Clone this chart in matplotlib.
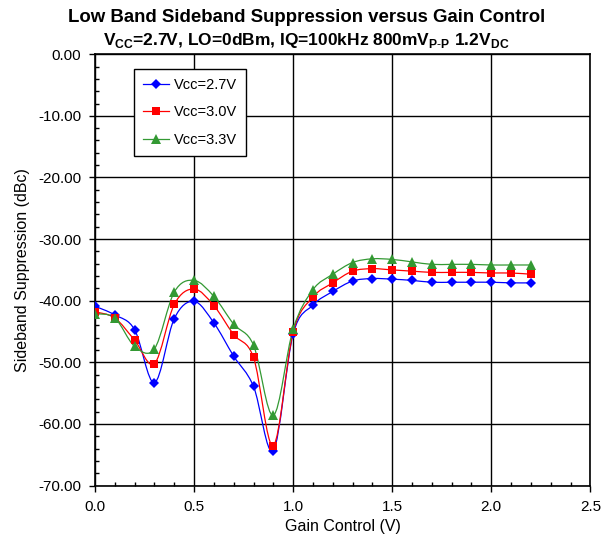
import matplotlib
matplotlib.use("Agg")
import matplotlib.pyplot as plt
from matplotlib.path import Path
from matplotlib.patches import PathPatch
from matplotlib.lines import Line2D
from matplotlib.ticker import MultipleLocator, FormatStrFormatter

plt.rcParams["font.family"] = ["Liberation Sans", "DejaVu Sans"]
plt.rcParams["mathtext.fontset"] = "custom"
plt.rcParams["mathtext.rm"] = "Liberation Sans"
plt.rcParams["mathtext.bf"] = "Liberation Sans:bold"

# Gain control (V)
gain = [0.0, 0.1, 0.2, 0.3, 0.4, 0.5, 0.6, 0.7, 0.8, 0.9, 1.0, 1.1,
        1.2, 1.3, 1.4, 1.5, 1.6, 1.7, 1.8, 1.9, 2.0, 2.1, 2.2]

# Sideband suppression (dBc) per supply voltage
vcc_27 = [-40.9, -42.3, -44.7, -53.3, -42.9, -40.1, -43.6, -49.0, -53.9, -64.3, -45.4, -40.7,
          -38.5, -36.8, -36.4, -36.5, -36.7, -37.0, -37.0, -37.0, -37.0, -37.1, -37.1]
vcc_30 = [-41.8, -42.8, -46.4, -50.2, -40.6, -38.1, -40.8, -45.5, -49.2, -63.5, -45.1, -39.4,
          -37.1, -35.2, -34.8, -35.0, -35.2, -35.4, -35.4, -35.4, -35.5, -35.5, -35.7]
vcc_33 = [-42.1, -42.8, -47.4, -47.8, -38.6, -36.7, -39.3, -43.8, -47.2, -58.6, -44.6, -38.2,
          -35.7, -33.8, -33.2, -33.3, -33.7, -34.1, -34.1, -34.1, -34.2, -34.2, -34.2]

series = [
    ("Vcc=2.7V", vcc_27, "#0000FF", "D", 5.5),
    ("Vcc=3.0V", vcc_30, "#FF0000", "s", 6.0),
    ("Vcc=3.3V", vcc_33, "#339933", "^", 6.5),
]


def smooth_path(xs, ys):
    """Bezier path through the points, like a spreadsheet 'smoothed line'."""
    pts = list(zip(xs, ys))
    verts = [pts[0]]
    codes = [Path.MOVETO]
    n = len(pts)
    for i in range(n - 1):
        p0 = pts[i - 1] if i > 0 else pts[i]
        p1 = pts[i]
        p2 = pts[i + 1]
        p3 = pts[i + 2] if i + 2 < n else pts[i + 1]
        c1 = (p1[0] + (p2[0] - p0[0]) / 6, p1[1] + (p2[1] - p0[1]) / 6)
        c2 = (p2[0] - (p3[0] - p1[0]) / 6, p2[1] - (p3[1] - p1[1]) / 6)
        verts += [c1, c2, p2]
        codes += [Path.CURVE4] * 3
    return Path(verts, codes)


fig = plt.figure(figsize=(6.13, 5.42), dpi=100)
ax = fig.add_axes([0.155, 0.104, 0.808, 0.796])

handles = []
for label, vals, color, marker, ms in series:
    ax.add_patch(PathPatch(smooth_path(gain, vals), facecolor="none",
                           edgecolor=color, lw=0.9, zorder=3))
    ax.plot(gain, vals, ls="none", marker=marker, color=color, ms=ms,
            markeredgewidth=0, zorder=4)
    handles.append(Line2D([], [], color=color, lw=0.9, marker=marker, ms=ms,
                          markeredgewidth=0, label=label))

ax.set_xlim(0, 2.5)
ax.set_ylim(-70, 0)
ax.xaxis.set_major_locator(MultipleLocator(0.5))
ax.xaxis.set_minor_locator(MultipleLocator(0.1))
ax.yaxis.set_major_locator(MultipleLocator(10))
ax.yaxis.set_minor_locator(MultipleLocator(2))
ax.xaxis.set_major_formatter(FormatStrFormatter("%.1f"))
ax.yaxis.set_major_formatter(FormatStrFormatter("%.2f"))
ax.tick_params(which="major", direction="out", length=4, width=1, labelsize=11, pad=6)
ax.tick_params(which="minor", direction="in", length=3, width=1)
ax.grid(True, which="major", color="black", lw=1)
for s in ax.spines.values():
    s.set_linewidth(1.2)

ax.set_xlabel("Gain Control (V)", fontsize=11.5, labelpad=4)
ax.set_ylabel("Sideband Suppression (dBc)", fontsize=11.5, labelpad=6)

fig.text(0.5, 0.968, "Low Band Sideband Suppression versus Gain Control",
         ha="center", va="center", fontsize=13.4, fontweight="bold")
fig.text(0.5, 0.925,
         r"V$_\mathbf{CC}$=2.7V, LO=0dBm, IQ=100kHz 800mV$_\mathbf{P\text{-}P}$ 1.2V$_\mathbf{DC}$",
         ha="center", va="center", fontsize=12.5, fontweight="bold")

leg = ax.legend(handles=handles, loc="upper left", bbox_to_anchor=(0.079, 0.966),
                borderaxespad=0, fancybox=False, edgecolor="black", framealpha=1,
                fontsize=10.5, handlelength=1.8, handletextpad=0.3,
                labelspacing=0.95, borderpad=0.6)
leg.get_frame().set_linewidth(1)

fig.savefig("out.png", dpi=100)
